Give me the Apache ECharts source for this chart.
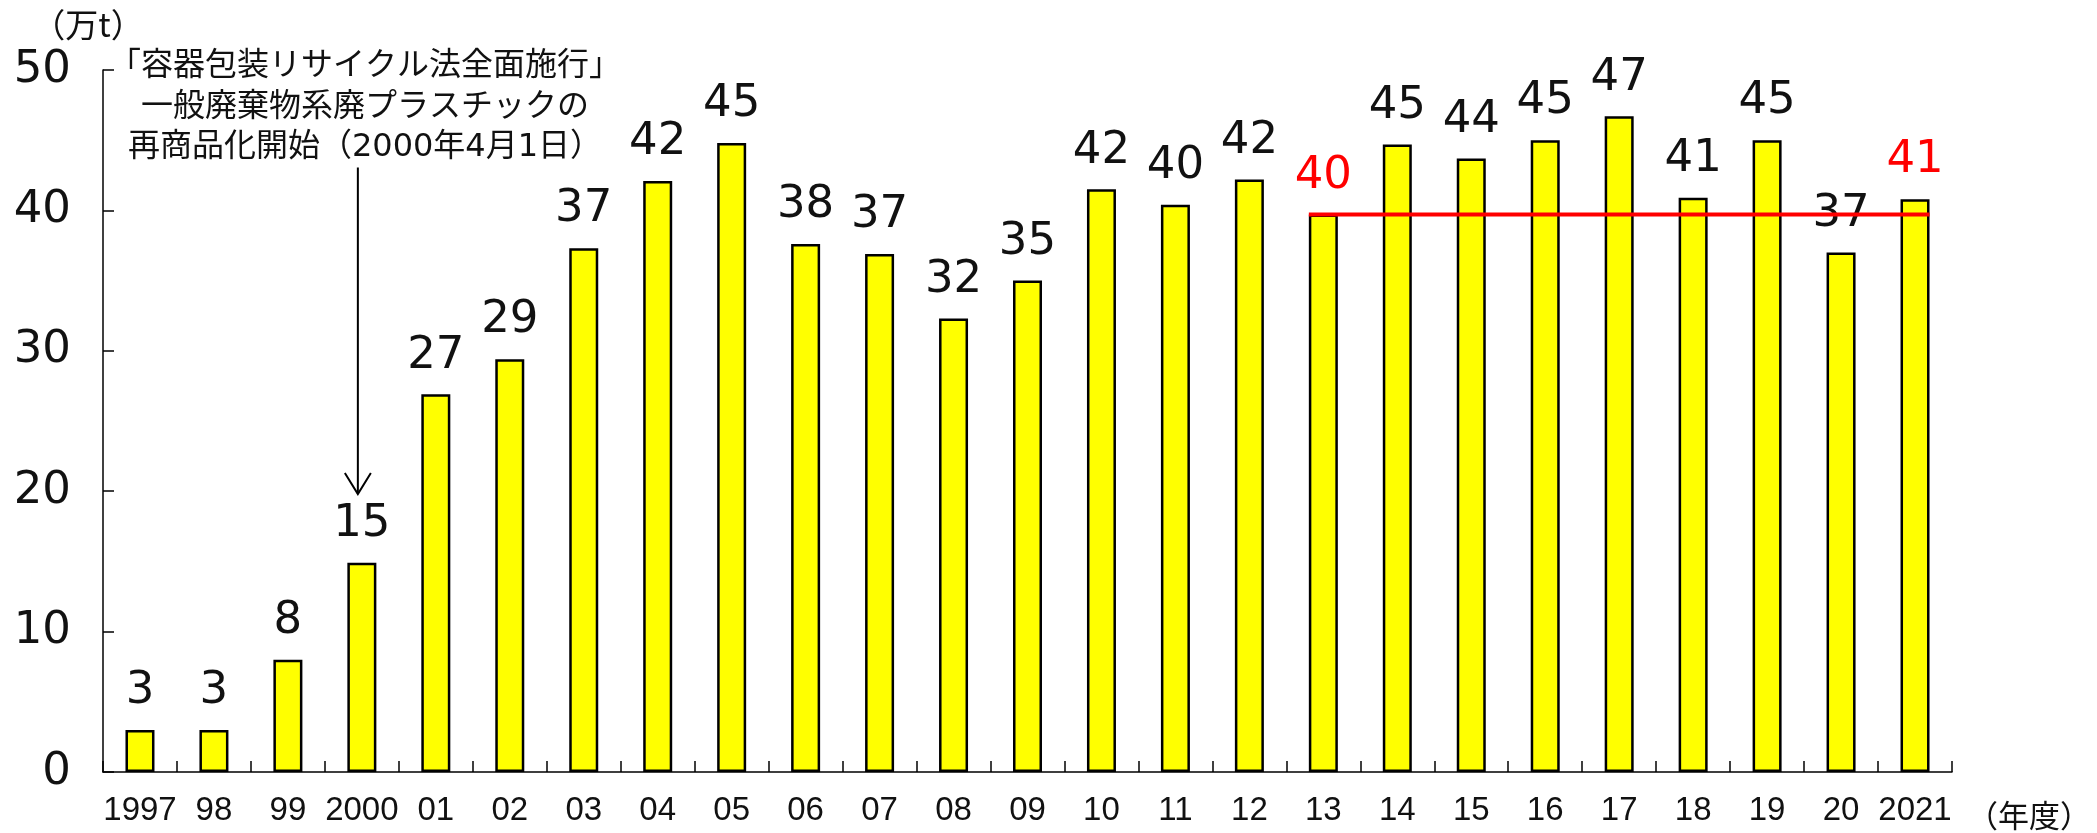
<!DOCTYPE html>
<html>
<head>
<meta charset="utf-8">
<script src="https://cdn.jsdelivr.net/npm/echarts@6/dist/echarts.min.js"></script>
<style>
html,body{margin:0;padding:0;background:#fff;}
#c{width:2097px;height:833px;}
</style>
</head>
<body>
<div id="c"></div>
<script>
const categories = ['1997','98','99','2000','01','02','03','04','05','06','07','08','09','10','11','12','13','14','15','16','17','18','19','20','2021'];
const values = [3.0,3.0,8.0,14.9,26.9,29.4,37.3,42.1,44.8,37.6,36.9,32.3,35.0,41.5,40.4,42.2,39.7,44.7,43.7,45.0,46.7,40.9,45.0,37.0,40.8];
const redLabelCats = ['13','2021'];
const yTicks = [0,10,20,30,40,50];
const refValue = 39.7;
const refFrom = '13';
const refTo = '2021';
const arrowCat = '2000';
const arrowTopValue = 43.05;
const arrowTipValue = 19.8;
const noteLines = ['「容器包装リサイクル法全面施行」','一般廃棄物系廃プラスチックの','再商品化開始（2000年4月1日）'];
const yUnit = '（万t）';
const xUnit = '（年度）';

const BAR_W = 29;
const numFont = '"DejaVu Sans", "Noto Sans", sans-serif';
const cjkFont = '"DejaVu Sans", "Noto Sans CJK JP", sans-serif';

const chart = echarts.init(document.getElementById('c'), null, {renderer:'canvas'});

const seriesData = values.map((v, i) => {
  const item = {value: v};
  if (redLabelCats.includes(categories[i])) {
    item.label = {color: '#ff0000'};
  }
  return item;
});

const option = {
  animation: false,
  backgroundColor: '#ffffff',
  grid: {left: 103, right: 145, top: 70, bottom: 61, containLabel: false},
  xAxis: {
    type: 'category',
    data: categories,
    axisLine: {show: true, lineStyle: {color: '#000', width: 1.5}},
    axisTick: {show: true, inside: true, length: 11, lineStyle: {color: '#000', width: 1.5}},
    axisLabel: {
      color: '#111', fontSize: 33, margin: 22, interval: 0,
      fontFamily: '"Liberation Sans Narrow", "Liberation Sans", sans-serif'
    },
    splitLine: {show: false}
  },
  yAxis: {
    type: 'value',
    min: yTicks[0], max: yTicks[yTicks.length-1], interval: yTicks[1]-yTicks[0],
    axisLine: {show: true, lineStyle: {color: '#000', width: 1.5}},
    axisTick: {show: true, inside: true, length: 11, lineStyle: {color: '#000', width: 1.5}},
    axisLabel: {color: '#111', fontSize: 45, margin: 32, fontFamily: numFont},
    splitLine: {show: false}
  },
  series: [{
    type: 'bar',
    data: seriesData,
    barWidth: BAR_W,
    itemStyle: {color: '#ffff00', borderColor: '#000', borderWidth: 2.5},
    label: {
      show: true, position: 'top', distance: 16,
      fontSize: 45, color: '#111', fontFamily: numFont,
      formatter: p => String(Math.round(p.value))
    },
    z: 2
  }]
};
chart.setOption(option);

const px = (c, v) => chart.convertToPixel({gridIndex: 0}, [c, v]);
const a = px(refFrom, refValue);
const b = px(refTo, refValue);
const t = px(arrowCat, arrowTopValue);
const tip = px(arrowCat, arrowTipValue);
const ax = t[0] - 4;

const graphics = [
  {type: 'line', z: 10, shape: {x1: a[0] - BAR_W/2, y1: a[1], x2: b[0] + BAR_W/2, y2: b[1]},
   style: {stroke: '#ff0000', lineWidth: 4}},
  {type: 'line', z: 10, shape: {x1: ax, y1: t[1], x2: ax, y2: tip[1]},
   style: {stroke: '#000', lineWidth: 2}},
  {type: 'polyline', z: 10, shape: {points: [[ax - 13, tip[1] - 21], [ax, tip[1]], [ax + 13, tip[1] - 21]]},
   style: {stroke: '#000', lineWidth: 2, fill: null}},
  {type: 'text', z: 10, x: 88, y: 24, style: {text: yUnit, fontSize: 33, fill: '#111', fontFamily: '"Noto Sans CJK JP", sans-serif', align: 'center', verticalAlign: 'middle'}},
  {type: 'text', z: 10, x: 2029, y: 815, style: {text: xUnit, fontSize: 31, fill: '#111', fontFamily: '"Noto Sans CJK JP", sans-serif', align: 'center', verticalAlign: 'middle'}}
];
noteLines.forEach((s, i) => {
  graphics.push({type: 'text', z: 10, x: 365, y: 67 + i * 40.5,
    style: {text: s, fontSize: 32, fill: '#111', fontFamily: cjkFont, align: 'center', verticalAlign: 'middle'}});
});
chart.setOption({graphic: graphics});
</script>
</body>
</html>
